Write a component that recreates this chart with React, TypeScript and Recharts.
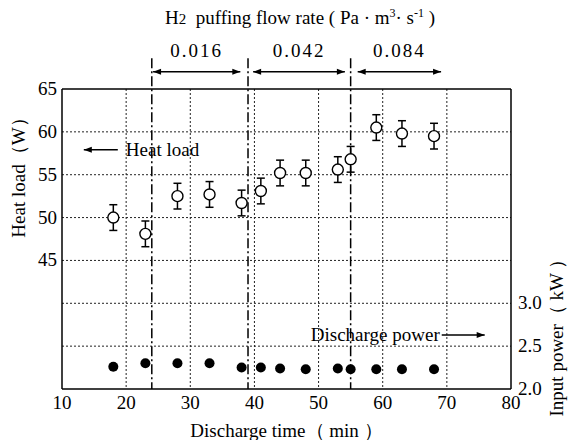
import React from "react";
import {
  ComposedChart,
  Scatter,
  XAxis,
  YAxis,
  CartesianGrid,
  ReferenceLine,
  ErrorBar,
  Label,
} from "recharts";

// discharge time (min) of each measurement
const times = [18, 23, 28, 33, 38, 41, 44, 48, 53, 55, 59, 63, 68];
// heat load (W) with its error
const heatLoad = [50.0, 48.1, 52.5, 52.7, 51.7, 53.1, 55.2, 55.2, 55.6, 56.8, 60.5, 59.8, 59.5];
const heatErr = [1.5, 1.5, 1.5, 1.5, 1.5, 1.5, 1.5, 1.5, 1.5, 1.5, 1.5, 1.5, 1.5];
// input (discharge) power (kW)
const inputPower = [2.26, 2.3, 2.3, 2.3, 2.25, 2.25, 2.24, 2.23, 2.24, 2.23, 2.23, 2.23, 2.23];

const xTicks = [10, 20, 30, 40, 50, 60, 70, 80];
const heatTicks = [45, 50, 55, 60, 65];
const powerTicks = [2.0, 2.5, 3.0];

// H2 puffing periods
const flowRates = ["0.016", "0.042", "0.084"];
const flowStarts = [24.2, 39.8, 56.1];
const flowEnds = [37.8, 54.1, 69.1];
const flowBoundaries = [24, 39, 55];

const FONT = "Liberation Serif, Times New Roman, serif";
const FS = 19;
const txt = { fontFamily: FONT, fontSize: FS, fill: "#000" };

const data = times.map((t, i) => ({
  t,
  heat: heatLoad[i],
  err: heatErr[i],
  power: inputPower[i],
}));

const arrow = (both: boolean) => (props: any) => {
  const { x1, y1, x2, y2 } = props;
  const d = x2 >= x1 ? 1 : -1;
  const h = 8;
  const w = 3;
  return (
    <g>
      <line x1={x1} y1={y1} x2={x2} y2={y2} stroke="#000" strokeWidth={1.5} />
      <path d={`M${x2},${y2} L${x2 - d * h},${y2 - w} L${x2 - d * h},${y2 + w} Z`} fill="#000" />
      {both && (
        <path d={`M${x1},${y1} L${x1 + d * h},${y1 - w} L${x1 + d * h},${y1 + w} Z`} fill="#000" />
      )}
    </g>
  );
};

const OpenDot = (props: any) => (
  <circle cx={props.cx} cy={props.cy} r={5.5} fill="#fff" stroke="#000" strokeWidth={1.4} />
);
const FilledDot = (props: any) => <circle cx={props.cx} cy={props.cy} r={5} fill="#000" />;
const NoDot = () => <g />;

// tick renderer: anchor given by the axis, text in serif
const tick = (anchor: "middle" | "end" | "start", dy: number, fmt?: (v: number) => string) => (p: any) => (
  <text x={p.x} y={p.y} dy={dy} textAnchor={anchor} style={txt}>
    {fmt ? fmt(p.payload.value) : p.payload.value}
  </text>
);

export default function App() {
  return (
    <div
      style={{
        position: "absolute",
        left: 0,
        top: 0,
        width: 570,
        height: 440,
        background: "#fff",
        fontFamily: FONT,
      }}
    >
      <div
        style={{
          position: "absolute",
          left: 300,
          top: 6,
          transform: "translateX(-50%)",
          whiteSpace: "nowrap",
          fontFamily: FONT,
          fontSize: FS,
          lineHeight: "24px",
        }}
      >
        H<span style={{ fontSize: 15 }}>2</span>&nbsp; puffing flow rate ( Pa · m
        <span style={{ fontSize: 12, position: "relative", top: -7 }}>3</span>· s
        <span style={{ fontSize: 12, position: "relative", top: -7 }}>-1</span> )
      </div>
      <ComposedChart
        width={570}
        height={440}
        data={data}
        margin={{ top: 89, right: 0, bottom: 0, left: 0 }}
        style={{ position: "absolute", left: 0, top: 0, fontFamily: FONT }}
      >
        <CartesianGrid
          yAxisId="heat"
          stroke="#222"
          strokeDasharray="2 2"
          horizontalValues={[35, 40, 45, 50, 55, 60]}
          verticalValues={[20, 30, 40, 50, 60, 70]}
        />
        <XAxis
          dataKey="t"
          type="number"
          domain={[10, 80]}
          ticks={xTicks}
          tickLine={false}
          tickSize={0}
          tickMargin={0}
          height={51}
          axisLine={{ stroke: "#000", strokeWidth: 1.5 }}
          tick={tick("middle", 20)}
        >
          <Label
            content={({ viewBox }: any) => (
              <text x={viewBox.x + viewBox.width / 2} y={viewBox.y + 48} textAnchor="middle" style={txt}>
                Discharge time（ min ）
              </text>
            )}
          />
        </XAxis>
        <YAxis
          yAxisId="heat"
          type="number"
          domain={[30, 65]}
          ticks={heatTicks}
          width={62}
          tickLine={false}
          tickSize={0}
          tickMargin={5}
          axisLine={{ stroke: "#000", strokeWidth: 1.5 }}
          tick={tick("end", 6)}
        >
          <Label
            content={({ viewBox }: any) => (
              <text
                x={viewBox.x + 25}
                y={viewBox.y + 84}
                textAnchor="middle"
                style={txt}
                transform={`rotate(-90, ${viewBox.x + 25}, ${viewBox.y + 84})`}
              >
                Heat load（W）
              </text>
            )}
          />
        </YAxis>
        <YAxis
          yAxisId="power"
          orientation="right"
          type="number"
          domain={[2, 5.5]}
          ticks={powerTicks}
          width={59}
          tickLine={false}
          tickSize={0}
          tickMargin={7}
          axisLine={{ stroke: "#000", strokeWidth: 1.5 }}
          tick={tick("start", 6, (v) => v.toFixed(1))}
        >
          <Label
            content={({ viewBox }: any) => (
              <text
                x={viewBox.x + 52}
                y={viewBox.y + 244}
                textAnchor="middle"
                style={txt}
                transform={`rotate(-90, ${viewBox.x + 52}, ${viewBox.y + 244})`}
              >
                Input power（ kW ）
              </text>
            )}
          />
        </YAxis>

        <ReferenceLine yAxisId="heat" y={65} stroke="#000" strokeWidth={1.5} />

        {flowBoundaries.map((b) => (
          <ReferenceLine
            key={`b${b}`}
            yAxisId="heat"
            ifOverflow="visible"
            segment={[
              { x: b, y: 68.6 },
              { x: b, y: 30 },
            ]}
            stroke="#000"
            strokeWidth={1.5}
            strokeDasharray="10 3 2 3"
          />
        ))}
        {flowRates.map((r, i) => (
          <ReferenceLine
            key={r}
            yAxisId="heat"
            ifOverflow="visible"
            segment={[
              { x: flowStarts[i], y: 67 },
              { x: flowEnds[i], y: 67 },
            ]}
            shape={arrow(true)}
            label={{
              position: "top",
              content: ({ viewBox }: any) => (
                <text
                  x={viewBox.x + viewBox.width / 2}
                  y={viewBox.y - 15}
                  textAnchor="middle"
                  style={{ ...txt, letterSpacing: 2 }}
                >
                  {r}
                </text>
              ),
            }}
          />
        ))}

        <ReferenceLine
          yAxisId="heat"
          segment={[
            { x: 18.7, y: 57.9 },
            { x: 13.4, y: 57.9 },
          ]}
          shape={arrow(false)}
          label={{
            content: ({ viewBox }: any) => (
              <text x={viewBox.x + viewBox.width + 8} y={viewBox.y + 6} style={txt}>
                Heat load
              </text>
            ),
          }}
        />
        <ReferenceLine
          yAxisId="power"
          segment={[
            { x: 69.2, y: 2.63 },
            { x: 75.9, y: 2.63 },
          ]}
          shape={arrow(false)}
          label={{
            content: ({ viewBox }: any) => (
              <text x={viewBox.x - 2} y={viewBox.y + 6} textAnchor="end" style={txt}>
                Discharge power
              </text>
            ),
          }}
        />

        <Scatter yAxisId="heat" dataKey="heat" shape={NoDot} isAnimationActive={false}>
          <ErrorBar dataKey="err" direction="y" width={4} stroke="#000" strokeWidth={1.5} />
        </Scatter>
        <Scatter yAxisId="heat" dataKey="heat" shape={OpenDot} isAnimationActive={false} />
        <Scatter yAxisId="power" dataKey="power" shape={FilledDot} isAnimationActive={false} />
      </ComposedChart>
    </div>
  );
}
